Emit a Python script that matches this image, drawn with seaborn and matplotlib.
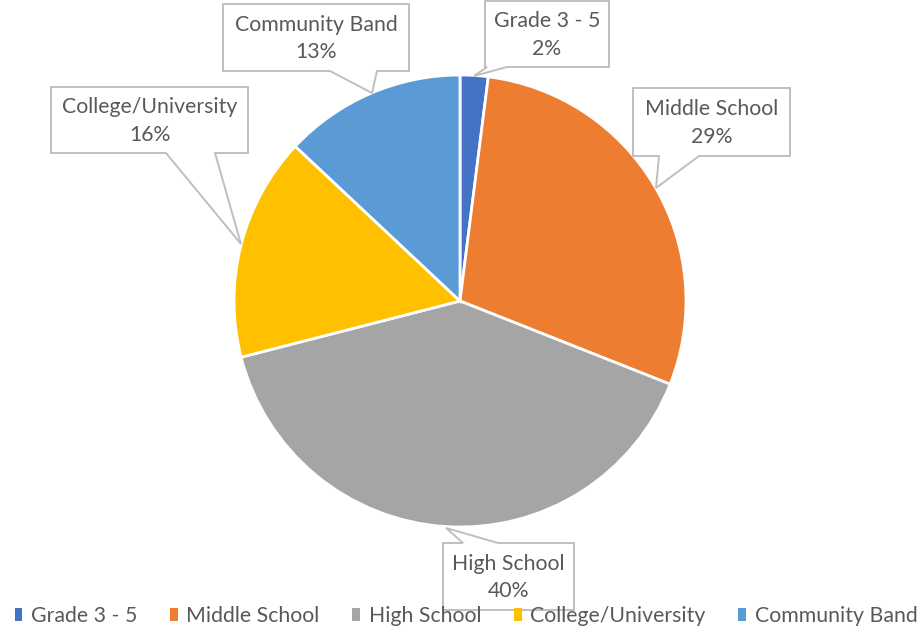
import matplotlib
matplotlib.use("Agg")
import matplotlib.pyplot as plt
from matplotlib.patches import Polygon
import seaborn as sns

# data
categories = ["Grade 3 - 5", "Middle School", "High School", "College/University", "Community Band"]
shares = [2, 29, 40, 16, 13]
colors = ["#4472C4", "#ED7D31", "#A5A5A5", "#FFC000", "#5B9BD5"]

# callout boxes in pixel coords: (x0, y0, x1, y1), tail base (a, b), tail tip
boxes = [
    (485, 1, 609, 67, "bottom", (487, 507), (474, 76)),
    (633, 88, 790, 156, "bottom", (659, 699), (656, 188)),
    (443, 543, 574, 610, "top", (463, 498), (446, 528)),
    (51, 87, 248, 153, "bottom", (166, 215), (241, 244)),
    (223, 4, 409, 71, "bottom", (330, 377), (372, 93)),
]

W, H = 924, 634
TXT = "#595959"
FS = 15.3

sns.set_theme(style="white")
plt.rcParams["font.family"] = ["Lato", "DejaVu Sans"]

fig = plt.figure(figsize=(W / 100, H / 100), dpi=100)
ax = fig.add_axes([0, 0, 1, 1])


def py(y):
    return H - y


wedges, _ = ax.pie(
    shares,
    colors=colors,
    startangle=90,
    counterclock=False,
    center=(460, py(301)),
    radius=226,
    wedgeprops=dict(edgecolor="white", linewidth=2),
)

for (x0, y0, x1, y1, side, (a, b), tip), name, val in zip(boxes, categories, shares):
    if side == "bottom":
        pts = [(x0, y0), (x1, y0), (x1, y1), (b, y1), tip, (a, y1), (x0, y1)]
    else:
        pts = [(x0, y0), (a, y0), tip, (b, y0), (x1, y0), (x1, y1), (x0, y1)]
    pts = [(x, py(y)) for x, y in pts]
    ax.add_patch(Polygon(pts, closed=True, facecolor="white", edgecolor="#BFBFBF",
                         linewidth=1.4, zorder=5))
    cx = (x0 + x1) / 2
    cy = (y0 + y1) / 2
    ax.text(cx, py(cy + 1), f"{name}\n{val}%", ha="center", va="center",
            fontsize=FS, color=TXT, linespacing=1.45, zorder=6)

ax.set_xlim(0, W)
ax.set_ylim(0, H)
ax.set_aspect("equal")
ax.axis("off")

leg = fig.legend(wedges, categories, loc="center", bbox_to_anchor=(466 / W, 1 - 616 / H),
                 ncol=5, frameon=False, fontsize=FS, handlelength=0.36, handleheight=0.5,
                 handletextpad=0.4, columnspacing=1.55, labelcolor=TXT)
for h in leg.legend_handles:
    h.set_edgecolor("none")
leg.set_zorder(10)

fig.savefig("out.png", dpi=100, facecolor="white")
